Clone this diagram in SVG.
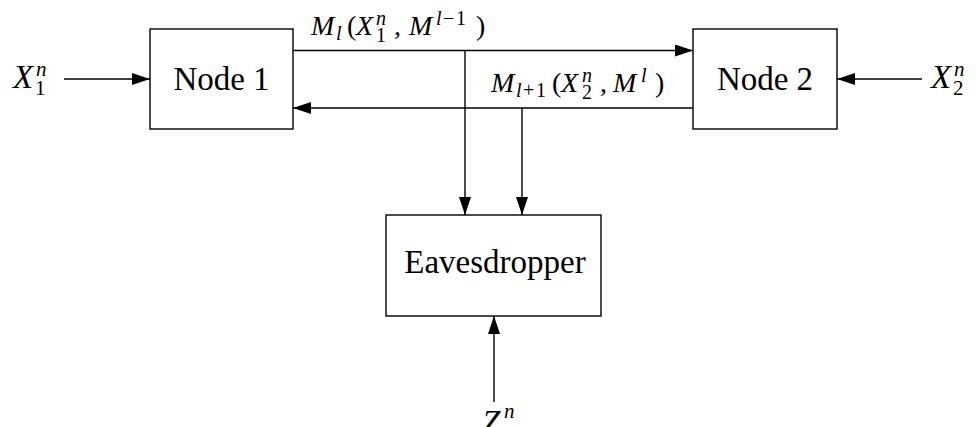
<svg xmlns="http://www.w3.org/2000/svg" width="977" height="427" viewBox="0 0 977 427">
<style>
.box{fill:#fff;stroke:#000;stroke-width:1.4}
.ln{fill:none;stroke:#000;stroke-width:1.4}
text{font-family:"Liberation Serif","DejaVu Serif",serif;fill:#000}
.big{font-size:33px}
.bsc{font-size:21px}
.lab{font-size:28px}
.sc{font-size:20px}
.it{font-style:italic}
</style>
<defs>
<marker id="ah" markerUnits="userSpaceOnUse" markerWidth="18" markerHeight="12" refX="18" refY="6" orient="auto">
<path d="M0,0 L18,6 L0,12 Z" fill="#000"/>
</marker>
</defs>
<g id="connectors">
<line class="ln" x1="64" y1="79" x2="150" y2="79" marker-end="url(#ah)"/>
<line class="ln" x1="922" y1="79" x2="837" y2="79" marker-end="url(#ah)"/>
<line class="ln" x1="293" y1="50.5" x2="693" y2="50.5" marker-end="url(#ah)"/>
<line class="ln" x1="693" y1="108" x2="293" y2="108" marker-end="url(#ah)"/>
<line class="ln" x1="465" y1="50.5" x2="465" y2="215" marker-end="url(#ah)"/>
<line class="ln" x1="522" y1="108" x2="522" y2="215" marker-end="url(#ah)"/>
<line class="ln" x1="494" y1="402" x2="494" y2="316" marker-end="url(#ah)"/>
</g>
<g id="node1">
<rect class="box" x="150" y="29" width="143" height="100"/>
<text class="big" x="221.5" y="90" text-anchor="middle">Node 1</text>
</g>
<g id="node2">
<rect class="box" x="693" y="29" width="144" height="100"/>
<text class="big" x="765" y="90" text-anchor="middle">Node 2</text>
</g>
<g id="eavesdropper">
<rect class="box" x="386" y="215" width="215" height="101"/>
<text class="big" x="495" y="273" text-anchor="middle">Eavesdropper</text>
</g>
<g id="labels">
<text class="big it" x="13" y="88">X</text>
<text class="bsc it" x="36" y="76">n</text>
<text class="bsc" x="35" y="95">1</text>

<text class="big it" x="931" y="88">X</text>
<text class="bsc it" x="954" y="76">n</text>
<text class="bsc" x="953" y="95">2</text>

<text class="big it" x="482" y="433">Z</text>
<text class="bsc it" x="504" y="418">n</text>

<text class="lab it" x="311" y="35">M</text>
<text class="sc it" x="336" y="40">l</text>
<text class="lab" x="347" y="35">(</text>
<text class="lab it" x="356" y="35">X</text>
<text class="sc it" x="376" y="25">n</text>
<text class="sc" x="376" y="42">1</text>
<text class="lab" x="394" y="35">,</text>
<text class="lab it" x="409" y="35">M</text>
<text class="sc it" x="436" y="25">l</text>
<text class="sc" x="443" y="25">−</text>
<text class="sc" x="456" y="25">1</text>
<text class="lab" x="476" y="35">)</text>

<text class="lab it" x="491" y="92">M</text>
<text class="sc it" x="516" y="97">l</text>
<text class="sc" x="523" y="97">+</text>
<text class="sc" x="536" y="97">1</text>
<text class="lab" x="552" y="92">(</text>
<text class="lab it" x="561" y="92">X</text>
<text class="sc it" x="582" y="82">n</text>
<text class="sc" x="582" y="99">2</text>
<text class="lab" x="600" y="92">,</text>
<text class="lab it" x="613" y="92">M</text>
<text class="sc it" x="641" y="82">l</text>
<text class="lab" x="655" y="92">)</text>
</g>
</svg>
